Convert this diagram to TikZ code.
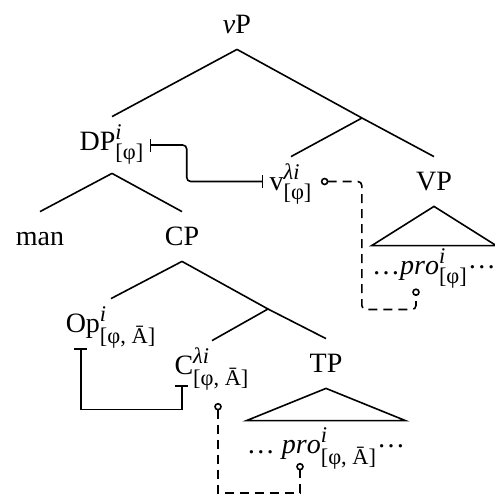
\documentclass[tikz,border=0pt]{standalone}
\usepackage{amsmath}
\usepackage{fontspec}
\setmainfont{Liberation Serif}
\DeclareMathSizes{14}{14}{11.2}{8.5}
\usepackage{tikz}
\usetikzlibrary{arrows.meta,calc}

\begin{document}
\begin{tikzpicture}[
  x=0.5pt, y=-0.5pt,
  font=\fontsize{14}{16}\selectfont,
  lbl/.style={anchor=base, inner sep=0pt, text height=16.5pt, text depth=8pt},
  roof/.style={anchor=base, inner sep=0pt},
  branch/.style={thick},
  agree/.style={{Bar[width=6.5pt]}-{Bar[width=6.5pt]}, thick, rounded corners=2pt},
  bind/.style={{Circle[open,length=3.8pt]}-{Circle[open,length=3.8pt]}, thick,
               dash pattern=on 4.5pt off 3pt}
]
  \useasboundingbox (0,0) rectangle (495,494);
  \node[lbl] (vp) at (237,33) {\textit{v}P};
  \coordinate (j1) at (362,118);
  \node[lbl, text depth=11.5pt] (dp) at (112,150) {$\text{DP}^{\mathit{i}}_{\text{[φ]}}$};
  \node[lbl] (v) at (291,190) {$\text{v}^{\text{\itshape λi}}_{\text{[φ]}}$};
  \node[lbl] (vpbar) at (434,190) {VP};
  \node[roof, text height=14pt, text depth=7pt, minimum width=61pt] (pro1) at (434,274)
    {\ldots$\mathit{pro}^{\mathit{i}}_{\text{[φ]}}$\raisebox{3pt}{\ldots}};
  \node[lbl] (man) at (40,245) {man};
  \node[lbl] (cp) at (182,245) {CP};
  \coordinate (j2) at (268,309);
  \node[lbl] (op) at (111,332) {$\text{Op}^{\mathit{i}}_{\text{[φ, Ā]}}$};
  \node[lbl] (c) at (212,374) {$\text{C}^{\text{\itshape λi}}_{\text{[φ, Ā]}}$};
  \node[lbl] (tp) at (326,372) {TP};
  \node[roof, text height=16pt, text depth=4.75pt, minimum width=78.5pt] (pro2) at (326,453)
    {\ldots{} $\mathit{pro}^{\mathit{i}}_{\text{[φ, Ā]}}$\raisebox{3pt}{\ldots}};

  \draw[branch] (vp.south) -- (dp.north);
  \draw[branch] (vp.south) -- (j1) -- (vpbar.north);
  \draw[branch] (j1) -- (v.north);
  \draw[branch] (dp.south) -- (man.north);
  \draw[branch] (dp.south) -- (cp.north);
  \draw[branch] (cp.south) -- (op.north);
  \draw[branch] (cp.south) -- (j2) -- (tp.north);
  \draw[branch] (j2) -- (c.north);
  \draw[branch] (vpbar.south) -- (pro1.north east) -- (pro1.north west) -- cycle;
  \draw[branch] (tp.south) -- (pro2.north east) -- (pro2.north west) -- cycle;

  \draw[agree] ([xshift=2.5pt]dp.east) -- ++(37,0) |- ([xshift=-3pt]v.west);
  \draw[agree, sharp corners] ([xshift=-15pt]op.south) -- ++(0,61)
    -| ([xshift=-15pt,yshift=2.5pt]c.south);
  \draw[bind, rounded corners=2pt] ([xshift=4pt]v.east) -- ++(41,0) -- ++(0,128)
    -| ([xshift=-9pt]pro1.south);
  \draw[bind] ([xshift=3pt,yshift=-6.25pt]c.south) -- ++(0,90) -| ([xshift=-13pt]pro2.south);
\end{tikzpicture}
\end{document}
